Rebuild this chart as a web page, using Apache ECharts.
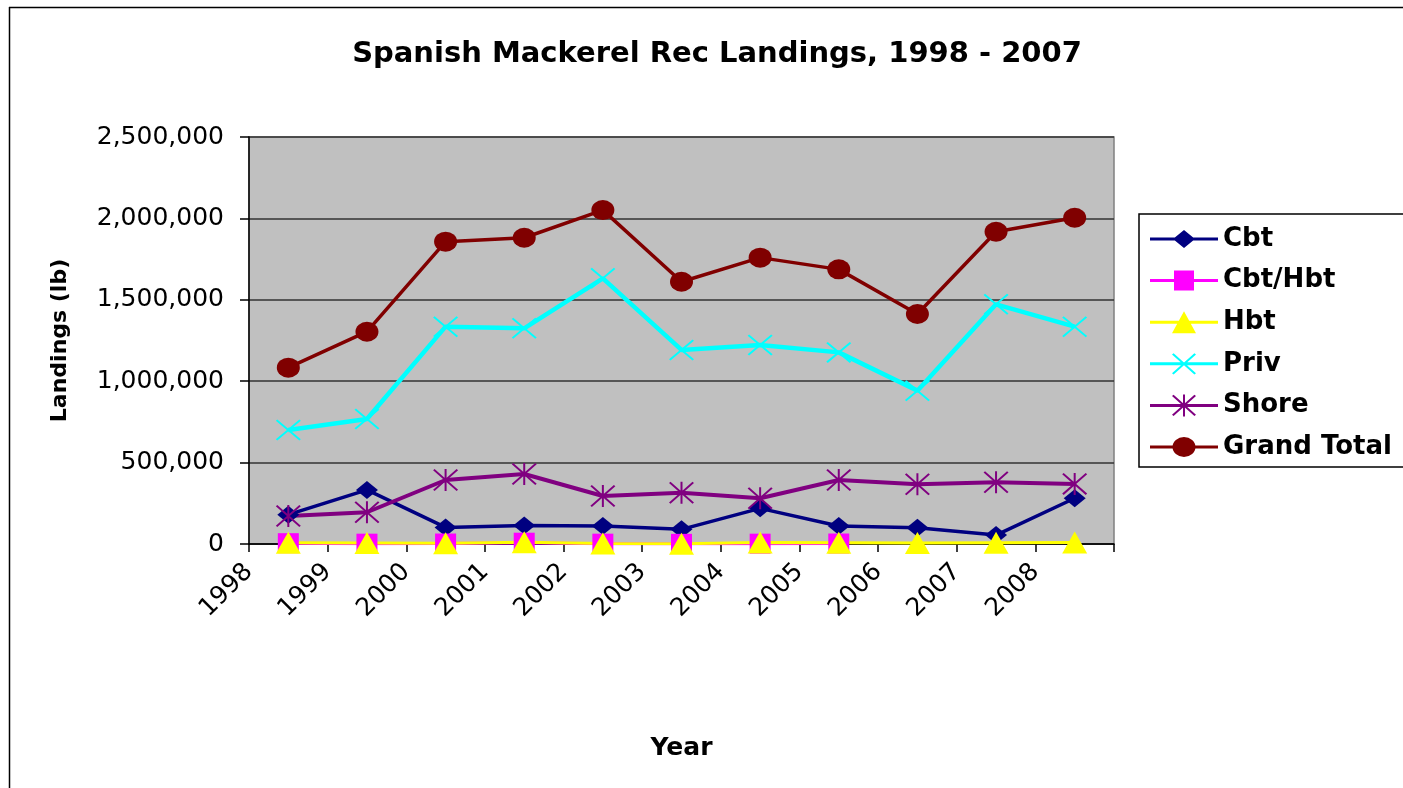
<!DOCTYPE html>
<html>
<head>
<meta charset="utf-8">
<script src="https://cdn.jsdelivr.net/npm/echarts@6/dist/echarts.min.js"></script>
<style>
html,body{margin:0;padding:0;background:#fff;overflow:hidden;}
#chart{width:1403px;height:788px;}
</style>
</head>
<body>
<div id="chart"></div>
<script>
const years = ['1998','1999','2000','2001','2002','2003','2004','2005','2006','2007','2008'];
const tickLabels = ['1998','1999','2000','2001','2002','2003','2004','2005','2006','2007','2008',''];
const cbt = [180000, 332000, 102000, 113000, 110000, 90000, 219000, 111000, 100000, 55000, 281000];
const cbtHbt = [5000, 2000, 3000, 8000, 2000, 1000, 2000, 3000, null, null, null];
const hbt = [8000, 6000, 5000, 10000, 3000, 2000, 9000, 8000, 6000, 8000, 9000];
const priv = [700000, 768000, 1335000, 1325000, 1632000, 1192000, 1222000, 1177000, 942000, 1472000, 1335000];
const shore = [172000, 195000, 393000, 430000, 295000, 315000, 281000, 393000, 367000, 379000, 369000];
const grandTotal = [1083000, 1304000, 1857000, 1881000, 2051000, 1611000, 1759000, 1687000, 1413000, 1918000, 2004000];

const FONT = 'DejaVu Sans';
const X_PATH = 'path://M0,6 L6,0 L100,94 L94,100 Z M94,0 L100,6 L6,100 L0,94 Z';
const STAR_PATH = 'path://M0,6 L6,0 L100,94 L94,100 Z M94,0 L100,6 L6,100 L0,94 Z M46,0 L54,0 L54,100 L46,100 Z';

// legend icons: a 68x22 box holding the line and the marker
const BOX = 'M0,0 L0,0 Z M68,22 L68,22 Z ';
const LINE = 'M0,9.5 L68,9.5 L68,12.5 L0,12.5 Z ';
const LEG_ICONS = {
  'Cbt': 'path://' + BOX + LINE + 'M34,2 L45,11 L34,20 L23,11 Z',
  'Cbt/Hbt': 'path://' + BOX + LINE + 'M24,1 L44,1 L44,21 L24,21 Z',
  'Hbt': 'path://' + BOX + LINE + 'M34,0 L46,22 L22,22 Z',
  'Priv': 'path://' + BOX + LINE + 'M22,1.6 L23.6,0.4 L46,20.4 L44.4,21.6 Z M44.4,0.4 L46,1.6 L23.6,21.6 L22,20.4 Z',
  'Shore': 'path://' + BOX + LINE + 'M22,1.6 L23.6,0.4 L46,20.4 L44.4,21.6 Z M44.4,0.4 L46,1.6 L23.6,21.6 L22,20.4 Z M33,0 L35,0 L35,22 L33,22 Z',
  'Grand Total': 'path://' + BOX + LINE + 'M34,1 A11.5,10 0 1,1 33.99,1 Z'
};
const legendNames = ['Cbt','Cbt/Hbt','Hbt','Priv','Shore','Grand Total'];

function mk(name, data, color, symbol, size, width) {
  return {
    name: name, type: 'line', data: data, xAxisIndex: 0,
    symbol: symbol, symbolSize: size, showSymbol: true, connectNulls: false,
    lineStyle: {color: color, width: width},
    itemStyle: {color: color, borderColor: color, borderWidth: 0},
    emphasis: {disabled: true},
    animation: false
  };
}

const chart = echarts.init(document.getElementById('chart'));
chart.setOption({
  backgroundColor: '#ffffff',
  animation: false,
  title: {
    text: 'Spanish Mackerel Rec Landings, 1998 - 2007',
    left: 712, top: 35, textAlign: 'center',
    textStyle: {fontFamily: FONT, fontSize: 29, fontWeight: 'bold', color: '#000'}
  },
  graphic: [
    {type: 'line', silent: true, shape: {x1: 9, y1: 7.5, x2: 1403, y2: 7.5}, style: {stroke: '#000', lineWidth: 1.5}},
    {type: 'line', silent: true, shape: {x1: 9.5, y1: 7, x2: 9.5, y2: 788}, style: {stroke: '#000', lineWidth: 1.5}}
  ],
  legend: {
    orient: 'vertical', left: 1139, top: 214,
    padding: [12, 12, 7, 11],
    itemWidth: 68, itemHeight: 22, itemGap: 15.6,
    borderColor: '#000', borderWidth: 1.5, backgroundColor: '#fff',
    textStyle: {fontFamily: FONT, fontSize: 26, fontWeight: 'bold', color: '#000'},
    data: legendNames.map(function (n) { return {name: n, icon: LEG_ICONS[n]}; }),
    selectedMode: false
  },
  grid: {
    left: 249, top: 137, width: 865, height: 407,
    show: true, backgroundColor: '#c0c0c0', borderColor: '#808080', borderWidth: 1.5,
    containLabel: false
  },
  xAxis: [{
    type: 'category', data: years, boundaryGap: true, position: 'bottom',
    show: false
  }, {
    type: 'category', data: tickLabels, boundaryGap: false, position: 'bottom',
    name: 'Year', nameLocation: 'middle', nameGap: 192,
    nameTextStyle: {fontFamily: FONT, fontSize: 25, fontWeight: 'bold', color: '#000'},
    axisLine: {show: true, lineStyle: {color: '#000', width: 1.5}},
    axisTick: {show: true, length: 8, inside: false, interval: 0, lineStyle: {color: '#000', width: 1.5}},
    axisLabel: {interval: 0, rotate: 45, margin: 24, fontFamily: FONT, fontSize: 25, color: '#000'},
    splitLine: {show: false}
  }],
  yAxis: {
    type: 'value', min: 0, max: 2500000, interval: 500000,
    name: 'Landings (lb)', nameLocation: 'middle', nameGap: 178, nameRotate: 90,
    nameTextStyle: {fontFamily: FONT, fontSize: 22, fontWeight: 'bold', color: '#000'},
    axisLine: {show: true, lineStyle: {color: '#000', width: 1.5}},
    axisTick: {show: true, length: 9, inside: false, lineStyle: {color: '#000', width: 1.5}},
    axisLabel: {margin: 25, fontFamily: FONT, fontSize: 25, color: '#000',
      formatter: function (v) { return Number(v).toLocaleString('en-US'); }},
    splitLine: {show: true, lineStyle: {color: '#333', width: 1.5}}
  },
  series: [
    mk('Cbt', cbt, '#000080', 'diamond', [22, 18], 3.5),
    mk('Cbt/Hbt', cbtHbt, '#ff00ff', 'rect', [21, 20], 3),
    mk('Hbt', hbt, '#ffff00', 'triangle', [25, 22], 3),
    mk('Priv', priv, '#00ffff', X_PATH, [25, 21], 4.5),
    mk('Shore', shore, '#800080', STAR_PATH, [25, 22], 4),
    mk('Grand Total', grandTotal, '#800000', 'circle', [23, 20], 3.5)
  ]
});
</script>
</body>
</html>
